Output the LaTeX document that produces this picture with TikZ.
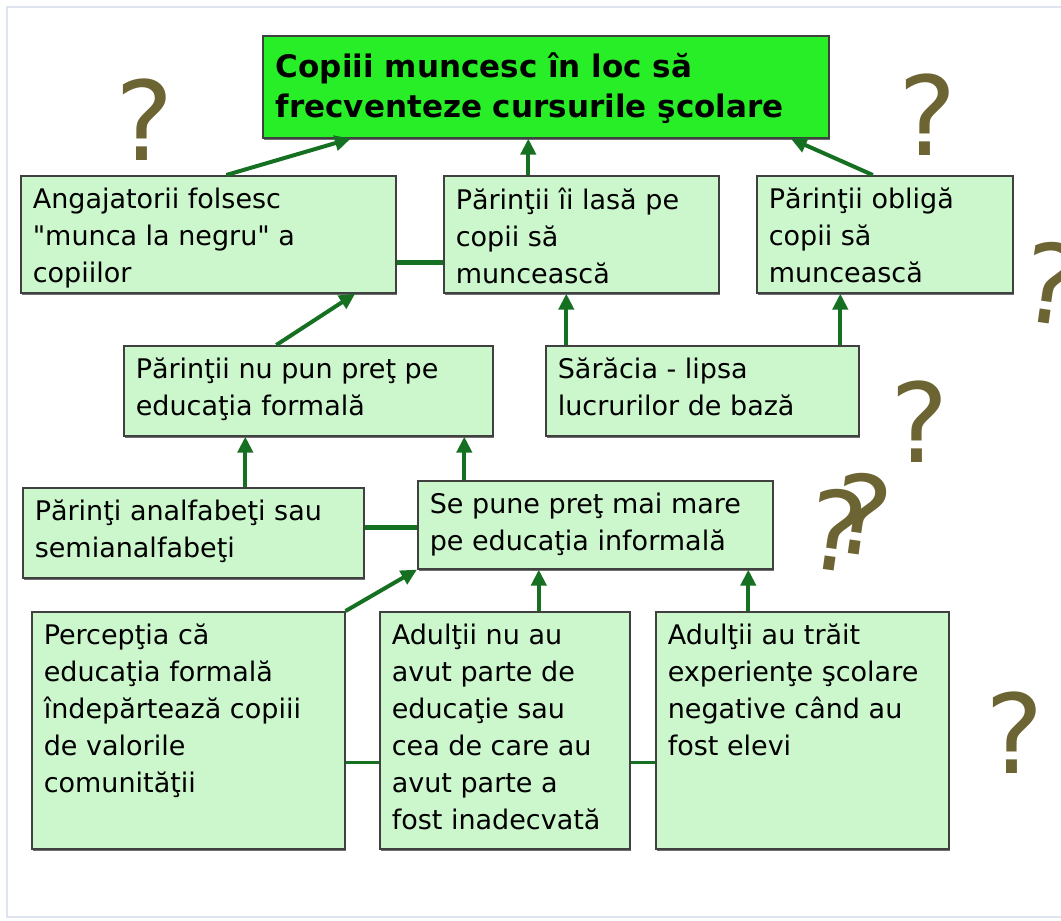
\documentclass[tikz,border=0pt]{standalone}
\usepackage{fontspec}
\setmainfont{DejaVu Sans}[Ligatures=TeXOff]
\usepackage{tikz}
\usetikzlibrary{arrows.meta,shadows}

\definecolor{boxgreen}{RGB}{204,246,204}
\definecolor{topgreen}{RGB}{40,238,40}
\definecolor{arrgreen}{RGB}{22,112,34}
\definecolor{qcolor}{RGB}{108,100,50}
\definecolor{framecol}{RGB}{222,228,240}

\tikzset{
	box/.style={draw=black!75, line width=1.6pt, fill=boxgreen, anchor=north west,
		inner xsep=12pt, inner ysep=12pt,
		drop shadow={shadow xshift=1.2pt, shadow yshift=-2.2pt, opacity=0.8, fill=black!70},
		font=\fontsize{27}{37}\selectfont},
	topbox/.style={box, fill=topgreen, inner xsep=13pt, inner ysep=17pt, font=\fontsize{31}{40}\selectfont\bfseries},
	arr/.style={draw=arrgreen, line width=4pt, -{Triangle[length=16pt,width=15pt]}},
	link/.style={draw=arrgreen, line width=#1},
	qmark/.style={text=qcolor, font=\fontsize{110}{110}\selectfont}
}

\begin{document}
\begin{tikzpicture}[x=1pt, y=-1pt]
	\useasboundingbox (0,0) rectangle (1061,921);
	% frame
	\draw[framecol, line width=2pt] (1061,7) -- (7,7) -- (7,917) -- (1061,917);

	% top problem
	\node[topbox] (top) at (262,35) {\parbox[c][68pt][t]{540pt}{Copiii muncesc în loc să\\frecventeze cursurile şcolare}};

	% causes, first row
	\node[box] (A) at (20,175) {\parbox[c][93pt][t]{351pt}{Angajatorii folsesc\\"munca la negru" a\\copiilor}};
	\node[box] (B) at (443,175) {\parbox[c][93pt][t]{251pt}{Părinţii îi lasă pe\\copii să\\muncească}};
	\node[box] (C) at (756,175) {\parbox[c][93pt][t]{232pt}{Părinţii obligă\\copii să\\muncească}};

	% second row
	\node[box] (D) at (123,345) {\parbox[c][66pt][t]{345pt}{Părinţii nu pun preţ pe\\educaţia formală}};
	\node[box] (E) at (545,345) {\parbox[c][66pt][t]{289pt}{Sărăcia - lipsa\\lucrurilor de bază}};

	% third row
	\node[box] (F) at (22,487) {\parbox[c][66pt][t]{317pt}{Părinţi analfabeţi sau\\semianalfabeţi}};
	\node[box] (G) at (417,480) {\parbox[c][64pt][t]{331pt}{Se pune preţ mai mare\\pe educaţia informală}};

	% fourth row
	\node[box] (H) at (31,611) {\parbox[c][213pt][t]{289pt}{Percepţia că\\educaţia formală\\îndepărtează copiii\\de valorile\\comunităţii}};
	\node[box] (I) at (379,611) {\parbox[c][213pt][t]{226pt}{Adulţii nu au\\avut parte de\\educaţie sau\\cea de care au\\avut parte a\\fost inadecvată}};
	\node[box] (J) at (655,611) {\parbox[c][213pt][t]{269pt}{Adulţii au trăit\\experienţe şcolare\\negative când au\\fost elevi}};

	% arrows
	\draw[arr] ([xshift=18pt]A.north) -- ([xshift=-195pt]top.south);
	\draw[arr] ([xshift=-53pt]B.north) -- ([xshift=-53pt]B.north |- top.south);
	\draw[arr] ([xshift=-12pt]C.north) -- ([xshift=245pt]top.south);
	\draw[arr] ([xshift=-32pt]D.north) -- ([xshift=147pt]A.south);
	\draw[arr] ([xshift=-136pt]E.north) -- ([xshift=-136pt]E.north |- B.south);
	\draw[arr] ([xshift=138pt]E.north) -- ([xshift=138pt]E.north |- C.south);
	\draw[arr] ([xshift=52pt]F.north) -- ([xshift=52pt]F.north |- D.south);
	\draw[arr] ([xshift=-131pt]G.north) -- ([xshift=-131pt]G.north |- D.south);
	\draw[arr] (H.north east) -- (G.south west);
	\draw[arr] ([xshift=34pt]I.north) -- ([xshift=34pt]I.north |- G.south);
	\draw[arr] ([xshift=-54pt]J.north) -- ([xshift=-54pt]J.north |- G.south);

	% links
	\draw[link=5pt] ([yshift=-28pt]A.east) -- ([yshift=-28pt]A.east -| B.west);
	\draw[link=5pt] ([yshift=5pt]F.east) -- ([yshift=5pt]F.east -| G.west);
	\draw[link=3pt] ([yshift=-32pt]H.east) -- ([yshift=-32pt]H.east -| I.west);
	\draw[link=3pt] ([yshift=-32pt]I.east) -- ([yshift=-32pt]I.east -| J.west);

	% question marks
	\node[qmark] (q1) at (145,120) {?};
	\node[qmark] (q2) at (928,115) {?};
	\node[qmark, rotate=-8] (q3) at (1052,283) {?};
	\node[qmark] (q4) at (920,422) {?};
	\node[qmark, rotate=-8] (q5) at (850,522) {?\kern-36pt\raisebox{20pt}{?}};
	\node[qmark] (q6) at (1015,733) {?};
\end{tikzpicture}
\end{document}
